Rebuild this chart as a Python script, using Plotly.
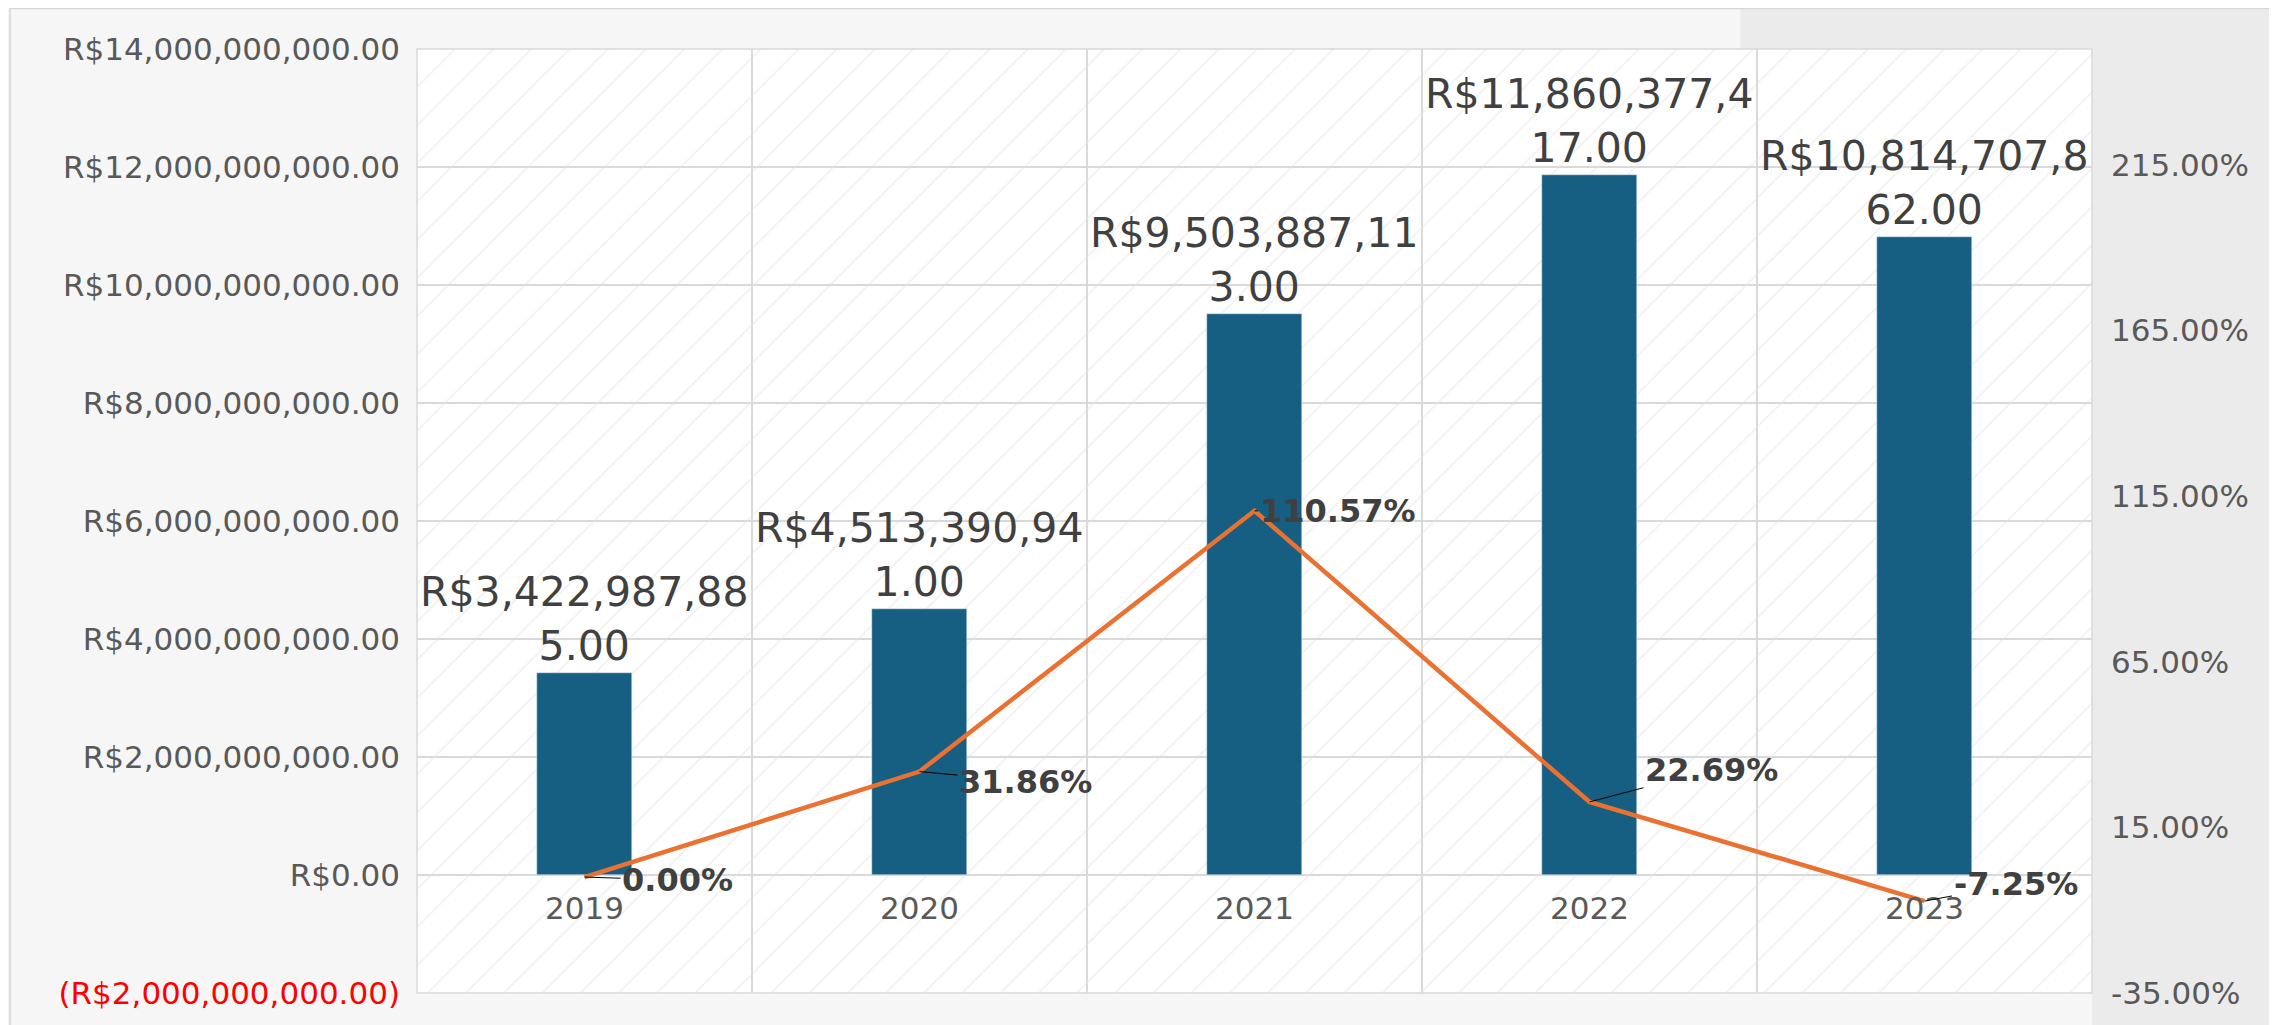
import plotly.graph_objects as go

# dados do grafico
anos = ["2019", "2020", "2021", "2022", "2023"]
receita = [3422987885.00, 4513390941.00, 9503887113.00, 11860377417.00, 10814707862.00]
crescimento = [0.00, 31.86, 110.57, 22.69, -7.25]
ticks_reais = [-2e9, 0, 2e9, 4e9, 6e9, 8e9, 10e9, 12e9, 14e9]
ticks_pct = [-35, 15, 65, 115, 165, 215]

AZUL = "#165E82"
LARANJA = "#E97132"
GRADE = "#d9d9d9"
TEXTO = "#404040"
EIXO = "#595959"
FONTE = "DejaVu Sans"


def fmt_real(v):
    if v < 0:
        return f"<span style='color:#ff0000'>(R${-v:,.2f})</span>"
    return f"R${v:,.2f}"


def rotulo_barra(v):
    s = f"R${v:,.2f}"
    return s[:14] + "<br>" + s[14:]


x = list(range(len(anos)))

fig = go.Figure()

# fundo hachurado da area do grafico
fig.add_trace(go.Scatter(
    x=[-0.5, len(anos) - 0.5, len(anos) - 0.5, -0.5, -0.5],
    y=[ticks_reais[0], ticks_reais[0], ticks_reais[-1], ticks_reais[-1], ticks_reais[0]],
    mode="none", fill="toself", fillcolor="rgba(0,0,0,0)",
    fillpattern=dict(shape="/", size=27, solidity=0.06,
                     fgcolor="#e2e2e2", bgcolor="rgba(0,0,0,0)"),
    hoverinfo="skip", showlegend=False, yaxis="y",
))

fig.add_trace(go.Bar(
    x=x, y=receita, yaxis="y2",
    marker_color=AZUL, width=0.286,
    text=[rotulo_barra(v) for v in receita],
    textposition="outside", constraintext="none", cliponaxis=False,
    textfont=dict(family=FONTE, size=41, color=TEXTO),
    showlegend=False,
))

fig.add_trace(go.Scatter(
    x=x, y=crescimento, yaxis="y3",
    mode="lines", line=dict(color=LARANJA, width=4.5),
    showlegend=False, cliponaxis=False,
))

# rotulos da linha com linhas de chamada
deslocamentos = [(93, 3), (106, 10), (83, 0), (122, -32), (91, -17)]
for i, p in enumerate(crescimento):
    ax, ay = deslocamentos[i]
    fig.add_annotation(
        x=x[i], y=p, xref="x", yref="y3",
        text=f"<b>{p:.2f}%</b>",
        showarrow=True, arrowhead=0, arrowwidth=1, arrowcolor="#000000",
        ax=ax, ay=ay, standoff=0,
        font=dict(family=FONTE, size=32, color=TEXTO),
    )

# moldura externa e fundo do lado direito (fora da area do grafico)
fig.add_shape(type="rect", xref="paper", yref="paper",
              x0=1, x1=1.2, y0=-0.1, y1=1.2,
              fillcolor="#ebebeb", line_width=0, layer="below")
fig.add_shape(type="rect", xref="paper", yref="paper",
              x0=0.79, x1=1, y0=1, y1=1.2,
              fillcolor="#ebebeb", line_width=0, layer="below")
fig.add_shape(type="rect", xref="paper", yref="paper",
              x0=-0.243, x1=1.2, y0=-0.1, y1=1.043,
              fillcolor="rgba(0,0,0,0)", line=dict(color="#d6d6d6", width=1.5))
fig.add_shape(type="rect", xref="paper", yref="paper",
              x0=0, x1=1, y0=0, y1=1,
              fillcolor="rgba(0,0,0,0)", line=dict(color=GRADE, width=1.5))

fig.update_layout(
    width=2269, height=1017,
    margin=dict(l=409, r=185, t=41, b=32),
    paper_bgcolor="#f6f6f6", plot_bgcolor="#ffffff",
    font=dict(family=FONTE, size=31, color=EIXO),
    bargap=0,
    xaxis=dict(
        range=[-0.5, len(anos) - 0.5],
        tickvals=x, ticktext=anos,
        anchor="free", position=2 / 16,
        showgrid=False, zeroline=False, showline=False, ticks="",
        ticklabelstandoff=12,
        tickfont=dict(size=31, color=EIXO),
        minor=dict(tickvals=[i + 0.5 for i in x[:-1]], showgrid=True,
                   gridcolor=GRADE, gridwidth=1.5, ticks=""),
    ),
    yaxis=dict(
        range=[ticks_reais[0], ticks_reais[-1]],
        tickvals=ticks_reais, ticktext=[fmt_real(v) for v in ticks_reais],
        showgrid=True, gridcolor=GRADE, gridwidth=1.5,
        zeroline=False, showline=False, ticks="",
        ticklabelstandoff=16,
        tickfont=dict(size=31, color=EIXO),
    ),
    yaxis2=dict(
        range=[ticks_reais[0], ticks_reais[-1]],
        overlaying="y", visible=False,
    ),
    yaxis3=dict(
        range=[-35, 250], overlaying="y", side="right",
        tickvals=ticks_pct, ticktext=[f"{v:.2f}%" for v in ticks_pct],
        showgrid=False, zeroline=False, showline=False, ticks="",
        ticklabelstandoff=18,
        tickfont=dict(size=31, color=EIXO),
    ),
)

fig.write_html("out.html")
